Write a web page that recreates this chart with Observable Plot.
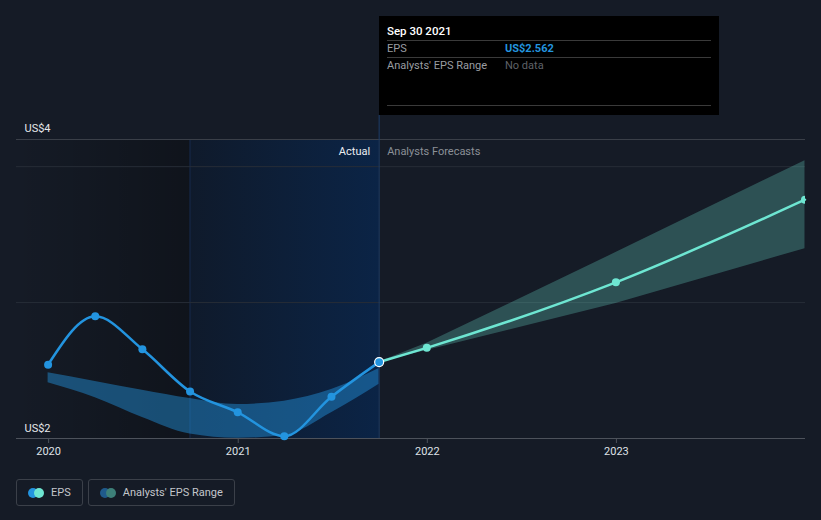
<!DOCTYPE html>
<html>
<head>
<meta charset="utf-8">
<script src="https://cdn.jsdelivr.net/npm/d3@7"></script>
<script src="https://cdn.jsdelivr.net/npm/@observablehq/plot@0.6"></script>
<style>
  html, body { margin: 0; padding: 0; background: #151b26; }
  body { width: 821px; height: 520px; overflow: hidden; font-family: Roboto, "Open Sans", sans-serif; }
  #wrap { position: relative; width: 821px; height: 520px; }
  #chart svg { display: block; }
  #chart [aria-label="x-axis tick"] path, #chart [aria-label="x-axis"] .tick line { stroke: #4d525b; }
  #tip { position: absolute; left: 379px; top: 16px; width: 340px; height: 99px; background: #000; box-sizing: border-box; padding: 0 8px; font-size: 11px; }
  #tip .row { display: flex; height: 16px; line-height: 16px; }
  #tip .line { border-bottom: 1px solid #3a3a3a; }
  #tip .head { color: #fff; font-weight: 500; font-size: 11.5px; margin-top: 6px; height: 18px; line-height: 18px; }
  #tip .k { width: 118px; color: #9a9da2; }
  #tip .v { color: #5f6268; }
  #tip .v.eps { color: #2394df; font-weight: 700; }
  #tip .spacer { height: 31px; }
  #legend { position: absolute; left: 16px; top: 479px; display: flex; gap: 5px; }
  .lg { display: flex; align-items: center; height: 25px; border: 1px solid #3b4049; border-radius: 3px; padding: 0 11px 0 11px; color: #c3c6cb; font-size: 11px; }
  .dots { position: relative; width: 16px; height: 10px; margin-right: 7px; }
  .dots span { position: absolute; top: 0; width: 10px; height: 10px; border-radius: 50%; }
</style>
</head>
<body>
<div id="wrap">
  <div id="chart"></div>
  <div id="tip"></div>
  <div id="legend"></div>
</div>
<script>
// ---- data ----
const actualDates = ["2019-12-31","2020-03-31","2020-06-30","2020-09-30","2020-12-31","2021-03-31","2021-06-30","2021-09-30"];
const actualEps   = [2.543, 2.899, 2.656, 2.346, 2.193, 2.017, 2.307, 2.562];
const pastRangeLow  = [2.410, 2.300, 2.155, 2.033, 2.002, 2.022, 2.190, 2.400];
const pastRangeHigh = [2.483, 2.419, 2.355, 2.294, 2.250, 2.275, 2.360, 2.515];

const forecastDates = ["2021-09-30","2021-12-31","2022-12-31","2023-12-31"];
const forecastEps   = [2.562, 2.667, 3.149, 3.757];
const forecastLow   = [2.562, 2.647, 2.993, 3.397];
const forecastHigh  = [2.562, 2.700, 3.368, 4.044];

const xTickYears = ["2020-01-01","2021-01-01","2022-01-01","2023-01-01"];
const xDomainDates = ["2019-10-31","2024-01-01"];
const yDomain = [2, 4.2];
const gridValues = [3, 4];
const yLabels = ["US$4", "US$2"];
const lastYearStart = "2020-09-30";
const tooltipDate = "Sep 30 2021";
const tooltipRows = [["EPS", "US$2.562"], ["Analysts' EPS Range", "No data"]];
const legendItems = [
  {label: "EPS", colors: ["#2394df", "#6ee6d2"]},
  {label: "Analysts' EPS Range", colors: ["#1f5a8c", "#3d8079"]}
];

// ---- build ----
const D = s => new Date(s);
const actual = actualDates.map((d, i) => ({date: D(d), eps: actualEps[i], lo: pastRangeLow[i], hi: pastRangeHigh[i]}));
const forecast = forecastDates.map((d, i) => ({date: D(d), eps: forecastEps[i], lo: forecastLow[i], hi: forecastHigh[i]}));
const lastActual = actual[actual.length - 1];
const xDomain = xDomainDates.map(D);

const regions = [
  {x1: xDomain[0], x2: D(lastYearStart), fill: "url(#gLeft)"},
  {x1: D(lastYearStart), x2: lastActual.date, fill: "url(#gBlue)"}
];

const plot = Plot.plot({
  width: 821,
  height: 470,
  marginTop: 139,
  marginBottom: 32,
  marginLeft: 16,
  marginRight: 16,
  style: {background: "transparent", color: "#dfe2e6", fontSize: "11px", fontFamily: "Roboto, sans-serif"},
  x: {type: "utc", domain: xDomain, ticks: xTickYears.map(D), tickFormat: d3.utcFormat("%Y"), tickSize: 5, tickPadding: 4, label: null},
  y: {domain: yDomain, axis: null},
  marks: [
    Plot.rect(regions, {x1: "x1", x2: "x2", y1: () => yDomain[0], y2: () => yDomain[1], fill: d => d.fill}),
    Plot.ruleX([D(lastYearStart)], {stroke: "#16294a", strokeWidth: 1}),
    Plot.ruleY(gridValues, {stroke: "#272d37", strokeWidth: 1}),
    Plot.ruleY([yDomain[1]], {stroke: "#3a3f48", strokeWidth: 1}),
    Plot.areaY(actual, {x: "date", y1: "lo", y2: "hi", curve: "monotone-x", fill: "#2394df", fillOpacity: 0.45}),
    Plot.areaY(forecast, {x: "date", y1: "lo", y2: "hi", curve: "linear", fill: "#6ee6d2", fillOpacity: 0.27}),
    Plot.ruleX([lastActual.date], {stroke: "#1d3d68", strokeWidth: 1, insetTop: -24}),
    Plot.ruleY([yDomain[0]], {stroke: "#4d525b", strokeWidth: 1}),
    Plot.line(forecast, {x: "date", y: "eps", curve: "monotone-x", stroke: "#6ee6d2", strokeWidth: 2.5}),
    Plot.line(actual, {x: "date", y: "eps", curve: "monotone-x", stroke: "#2394df", strokeWidth: 2.5}),
    Plot.dot(actual.slice(0, -1), {x: "date", y: "eps", r: 4, fill: "#2394df"}),
    Plot.dot(forecast.slice(1), {x: "date", y: "eps", r: 4, fill: "#6ee6d2", clip: true}),
    Plot.dot([lastActual], {x: "date", y: "eps", r: 4.5, fill: "#2394df", stroke: "#ffffff", strokeWidth: 1.2}),
    Plot.text([yLabels[0]], {frameAnchor: "top-left", textAnchor: "start", lineAnchor: "bottom", dx: 8, dy: -8, fill: "#e6e8eb", fontSize: 11}),
    Plot.text([yLabels[1]], {frameAnchor: "bottom-left", textAnchor: "start", lineAnchor: "bottom", dx: 8, dy: -7, fill: "#e6e8eb", fontSize: 11}),
    Plot.text(["Actual"], {x: () => lastActual.date, frameAnchor: "top", textAnchor: "end", lineAnchor: "middle", dx: -9, dy: 12, fill: "#eceef1", fontSize: 11}),
    Plot.text(["Analysts Forecasts"], {x: () => lastActual.date, frameAnchor: "top", textAnchor: "start", lineAnchor: "middle", dx: 8, dy: 12, fill: "#8b9097", fontSize: 11})
  ]
});

// gradient defs
const ns = "http://www.w3.org/2000/svg";
const svg = plot.tagName.toLowerCase() === "svg" ? plot : plot.querySelector("svg");
const defs = document.createElementNS(ns, "defs");
defs.innerHTML = `
  <linearGradient id="gLeft" x1="0" x2="1" y1="0" y2="0">
    <stop offset="0" stop-color="#000" stop-opacity="0"/>
    <stop offset="1" stop-color="#000" stop-opacity="0.28"/>
  </linearGradient>
  <linearGradient id="gBlue" x1="0" x2="1" y1="0" y2="0">
    <stop offset="0" stop-color="#0f1a2b"/>
    <stop offset="1" stop-color="#0b2446"/>
  </linearGradient>`;
svg.insertBefore(defs, svg.firstChild);
document.getElementById("chart").appendChild(plot);

// tooltip
const tip = document.getElementById("tip");
let html = `<div class="row head line">${tooltipDate}</div>`;
tooltipRows.forEach(([k, v], i) => {
  html += `<div class="row${i === 0 ? " line" : ""}"><span class="k">${k}</span><span class="v${i === 0 ? " eps" : ""}">${v}</span></div>`;
});
html += `<div class="row spacer line"></div>`;
tip.innerHTML = html;

// legend
const legend = document.getElementById("legend");
legendItems.forEach(it => {
  const el = document.createElement("div");
  el.className = "lg";
  el.innerHTML = `<span class="dots"><span style="left:0;background:${it.colors[0]}"></span><span style="left:6px;background:${it.colors[1]}"></span></span>${it.label}`;
  legend.appendChild(el);
});
</script>
</body>
</html>
